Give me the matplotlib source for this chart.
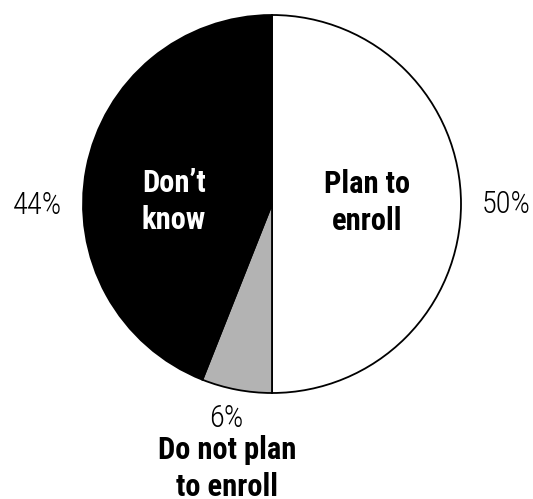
import matplotlib
matplotlib.use("Agg")
import matplotlib.pyplot as plt
from matplotlib import font_manager

labels = ["Plan to\nenroll", "Do not plan\nto enroll", "Don\u2019t\nknow"]
shares = [50, 6, 44]
colors = ["white", "#b3b3b3", "black"]

# condensed face, similar to the original
names = {f.name for f in font_manager.fontManager.ttflist}
wanted = ["Roboto Condensed", "Liberation Sans Narrow", "Archivo Narrow",
          "Barlow Semi Condensed", "Barlow Condensed", "Liberation Sans"]
fam = [n for n in wanted if n in names][:1] + ["DejaVu Sans"]
plt.rcParams["font.family"] = fam

W, H = 533, 499
fig = plt.figure(figsize=(W / 100, H / 100), dpi=100)
ax = fig.add_axes([0, 0, 1, 1])

cx, cy, r = 272, H - 204, 189
ax.pie(shares, colors=colors, startangle=90, counterclock=False,
       center=(cx, cy), radius=r, frame=True,
       wedgeprops=dict(edgecolor="black", linewidth=1.3))
ax.set_xlim(0, W)
ax.set_ylim(0, H)
ax.set_aspect("equal")
ax.axis("off")

fs = 22
# percentage labels (x, baseline y in pixels from top)
pct_pos = [(506, 213), (226, 427), (37, 214)]
for s, (x, y) in zip(shares, pct_pos):
    ax.text(x, H - y, f"{s}%", ha="center", va="baseline", fontsize=fs,
            fontweight="light")

# category labels, one line at a time
lab_pos = [(367, 193), (227, 459), (174, 192)]
lab_col = ["black", "black", "white"]
for lab, (x, y), c in zip(labels, lab_pos, lab_col):
    for i, line in enumerate(lab.split("\n")):
        ax.text(x, H - (y + 36.5 * i), line, ha="center", va="baseline",
                fontsize=fs, fontweight="bold", color=c)

fig.savefig("out.png", dpi=100)
